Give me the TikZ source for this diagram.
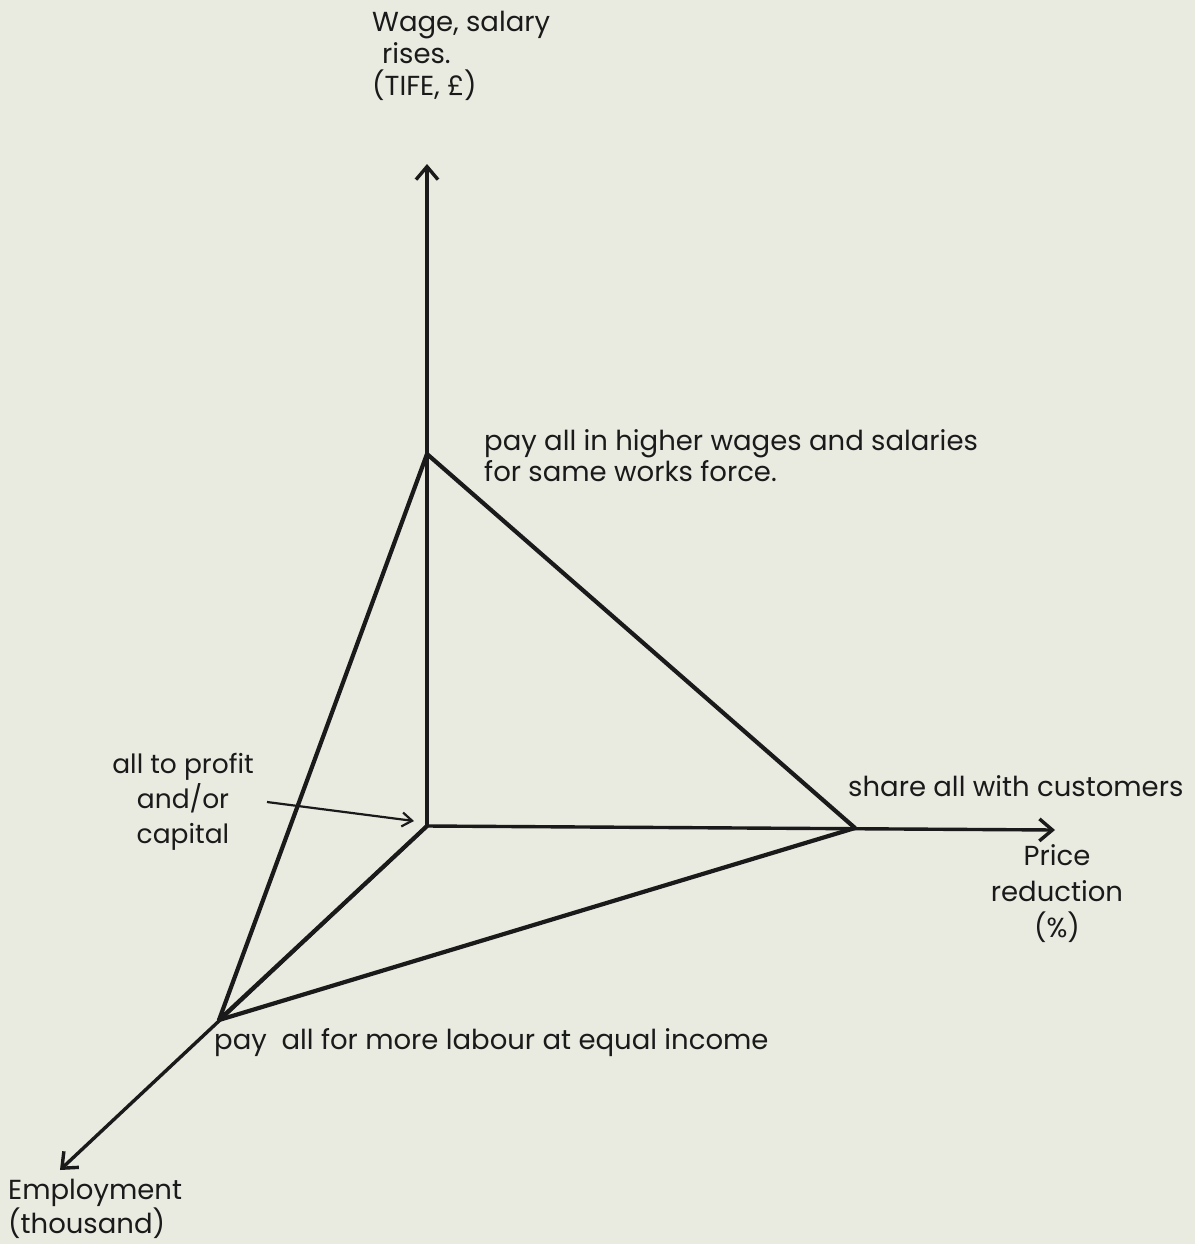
\documentclass[tikz,border=0pt]{standalone}
\usepackage{fontspec}
\setmainfont{Poppins}
\usetikzlibrary{arrows.meta}
\definecolor{paper}{HTML}{E9EAE0}
\definecolor{ink}{HTML}{1A1A1A}
\tikzset{
  axis/.style={draw=ink, line width=3.4pt, -{Straight Barb[length=13pt,width=22pt,line width=3.4pt]}},
  edge/.style={draw=ink, line width=4.2pt, line cap=round, line join=round},
  pointer/.style={draw=ink, line width=2.2pt, -{Straight Barb[length=10pt,width=14pt,line width=2.2pt]}},
  lbl/.style={text=ink, font=\fontsize{27.5}{34}\selectfont, inner sep=0pt},
}
\begin{document}
\begin{tikzpicture}[x=1pt,y=-1pt]
\fill[paper] (0,0) rectangle (1195,1244);
\useasboundingbox (0,0) rectangle (1195,1244);
% key points
\coordinate (O) at (427,826);
\coordinate (W) at (427,454);
\coordinate (P) at (855,828);
\coordinate (E) at (219,1020);
\coordinate (Wtip) at (427,164);
\coordinate (Ptip) at (1055,830);
\coordinate (Etip) at (60,1170);
% axes
\draw[axis] (O) -- (Wtip);
\draw[axis] (O) -- (Ptip);
\draw[axis] (O) -- (Etip);
% triangle and inner edges
\draw[edge] (W) -- (P) -- (E) -- cycle;
\draw[edge] (O) -- (E);
% labels
\node[lbl, font=\fontsize{27.5}{32}\selectfont, align=left, anchor=north west] (wlab) at (372,11) {Wage, salary\\\hspace*{10pt}rises.\\(TIFE, £)};
\node[lbl, font=\fontsize{27.5}{31}\selectfont, align=left, anchor=west] (wtext) at (484,456) {pay all in higher wages and salaries\\for same works force.};
\node[lbl, font=\fontsize{26.5}{35}\selectfont, align=center] (olab) at (183,802) {all to profit\\and/or\\capital};
\node[lbl, anchor=west] (ptext) at (848,786) {share all with customers};
\node[lbl, font=\fontsize{27.5}{36}\selectfont, align=center] (plab) at (1057,894) {Price\\reduction\\(\%)};
\node[lbl, anchor=west] (etext) at (214,1043) {pay\ \ all for more labour at equal income};
\node[lbl, font=\fontsize{27.5}{32}\selectfont, align=left, anchor=west] (elab) at (8,1209) {Employment\\(thousand)};
% pointer
\coordinate (ptr) at (267,802);
\coordinate (ptrend) at (414,821);
\draw[pointer] (ptr) -- (ptrend);
\end{tikzpicture}
\end{document}
